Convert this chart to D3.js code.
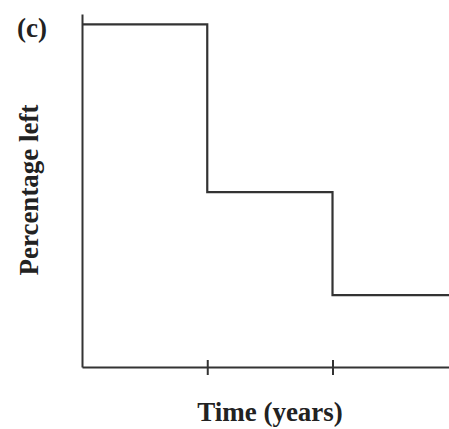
<!DOCTYPE html>
<html>
<head>
    <meta charset="UTF-8">
    <title>Percentage left</title>
    <script src="https://d3js.org/d3.v7.min.js"></script>
    <style>
        body { margin: 0; background: #fff; }
        .label { font-family: "Liberation Serif", "Times New Roman", serif; font-weight: bold; font-size: 27px; fill: #222; }
        .axis path, .axis line { stroke: #333; stroke-width: 2px; }
        .step { fill: none; stroke: #333; stroke-width: 2.2px; }
    </style>
</head>
<body>
    <div id="chart"></div>
    <script>
        // dati: istanti di tempo e percentuale rimasta
        var times = [0, 1, 2, 2.93];
        var percent = [100, 51, 21, 21];
        var xTicks = [1, 2];

        var width = 449, height = 429;
        var margin = { top: 14, right: 0, bottom: 62, left: 82 };

        var svg = d3.select("#chart")
            .append("svg")
            .attr("width", width)
            .attr("height", height);

        var x = d3.scaleLinear().domain([0, 2.93]).range([margin.left, width - margin.right]);
        var y = d3.scaleLinear().domain([0, 103]).range([height - margin.bottom, margin.top]);

        var points = times.map(function (t, i) { return { t: t, p: percent[i] }; });

        // asse x
        var gx = svg.append("g")
            .attr("class", "axis")
            .attr("transform", "translate(0," + y(0) + ")")
            .call(d3.axisBottom(x).tickValues(xTicks).tickSizeOuter(0).tickFormat(""));
        gx.selectAll(".tick line").attr("y1", -7).attr("y2", 8);

        // asse y
        svg.append("g")
            .attr("class", "axis")
            .attr("transform", "translate(" + x(0) + ",0)")
            .call(d3.axisLeft(y).tickValues([]).tickSizeOuter(0));

        // linea a gradini
        var line = d3.line()
            .x(function (d) { return x(d.t); })
            .y(function (d) { return y(d.p); })
            .curve(d3.curveStepAfter);

        svg.append("path")
            .datum(points)
            .attr("class", "step")
            .attr("d", line);

        // etichette
        svg.append("text")
            .attr("class", "label")
            .attr("x", 17)
            .attr("y", 37)
            .text("(c)");

        svg.append("text")
            .attr("class", "label")
            .attr("text-anchor", "middle")
            .attr("transform", "translate(38,190) rotate(-90)")
            .text("Percentage left");

        svg.append("text")
            .attr("class", "label")
            .attr("text-anchor", "middle")
            .attr("x", 270)
            .attr("y", 421)
            .text("Time (years)");
    </script>
</body>
</html>
